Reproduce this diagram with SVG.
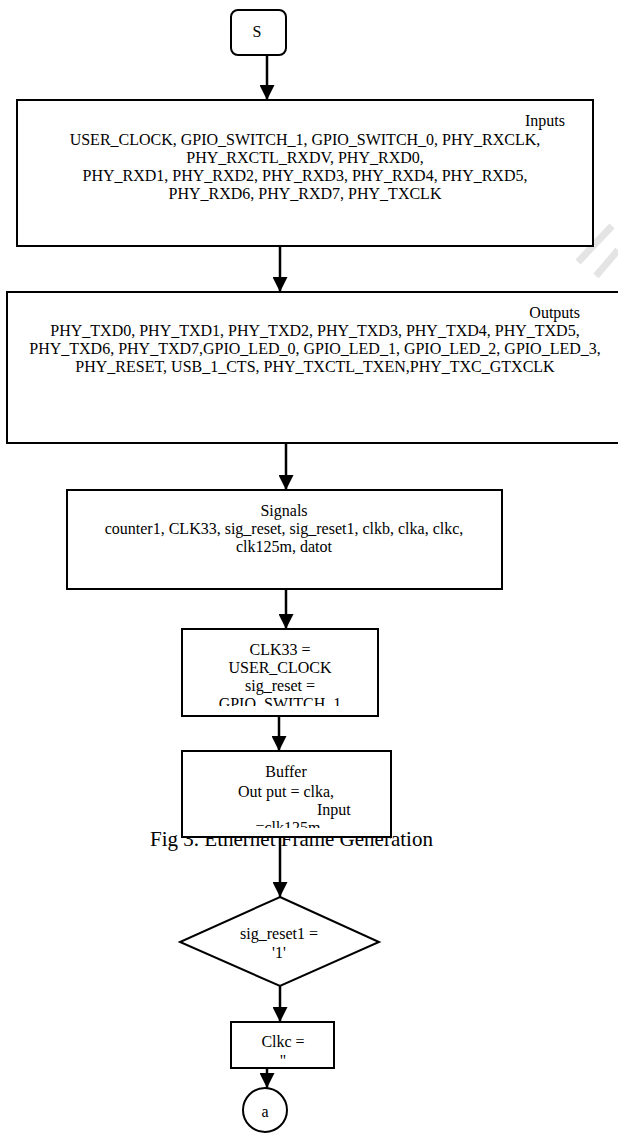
<svg xmlns="http://www.w3.org/2000/svg" width="618" height="1133" viewBox="0 0 618 1133">
<style>
.box{fill:#fff;stroke:#000;stroke-width:2}
.t{font-family:"Liberation Serif","Times New Roman",serif;font-size:16px;fill:#000}
.c{text-anchor:middle}
.e{text-anchor:end}
.cap{font-family:"Liberation Serif","Times New Roman",serif;font-size:21px;fill:#000;text-anchor:middle}
.conn line{stroke:#000;stroke-width:2.5}
.wm{fill:none;stroke:#e4e4e4;stroke-width:7}
</style>
<defs>
<marker id="ah" viewBox="0 0 15 15" refX="15" refY="7.5" markerWidth="15" markerHeight="15" markerUnits="userSpaceOnUse" orient="auto">
<path d="M0,0 L15,7.5 L0,15 Z" fill="#000"/>
</marker>
<clipPath id="clipClk"><rect x="182" y="629" width="196" height="77"/></clipPath>
<clipPath id="clipBuf"><rect x="182" y="751" width="209" height="77"/></clipPath>
<clipPath id="clipC"><rect x="231" y="1022" width="103" height="39"/></clipPath>
</defs>
<rect width="618" height="1133" fill="#fff"/>
<g id="watermark">
<path class="wm" d="M612,226 L578,262"/>
<path class="wm" d="M618,250 L596,276"/>
<path class="wm" d="M606,300 L580,330"/>
<path class="wm" d="M618,318 L588,352"/>
</g>
<text id="caption" class="cap" x="291.5" y="846">Fig 3. Ethernet Frame Generation</text>
<g id="start">
<rect class="box" x="231" y="10" width="55" height="45" rx="7"/>
<text class="t c" x="257" y="37">S</text>
</g>
<g id="inputs">
<rect class="box" x="17" y="100" width="576" height="146"/>
<text class="t e" x="565" y="126">Inputs</text>
<text class="t c" x="305" y="145">USER_CLOCK, GPIO_SWITCH_1, GPIO_SWITCH_0, PHY_RXCLK,</text>
<text class="t c" x="305" y="163">PHY_RXCTL_RXDV, PHY_RXD0,</text>
<text class="t c" x="305" y="181">PHY_RXD1, PHY_RXD2, PHY_RXD3, PHY_RXD4, PHY_RXD5,</text>
<text class="t c" x="305" y="199">PHY_RXD6, PHY_RXD7, PHY_TXCLK</text>
</g>
<g id="outputs">
<rect class="box" x="7" y="292" width="618" height="151"/>
<text class="t e" x="580" y="318">Outputs</text>
<text class="t c" x="315" y="336">PHY_TXD0, PHY_TXD1, PHY_TXD2, PHY_TXD3, PHY_TXD4, PHY_TXD5,</text>
<text class="t c" x="315" y="354">PHY_TXD6, PHY_TXD7,GPIO_LED_0, GPIO_LED_1, GPIO_LED_2, GPIO_LED_3,</text>
<text class="t c" x="315" y="372">PHY_RESET, USB_1_CTS, PHY_TXCTL_TXEN,PHY_TXC_GTXCLK</text>
</g>
<g id="signals">
<rect class="box" x="67" y="490" width="435" height="99"/>
<text class="t c" x="284" y="516">Signals</text>
<text class="t c" x="284" y="534">counter1, CLK33, sig_reset, sig_reset1, clkb, clka, clkc,</text>
<text class="t c" x="284" y="552">clk125m, datot</text>
</g>
<g id="assign">
<rect class="box" x="182" y="629" width="196" height="87"/>
<g clip-path="url(#clipClk)">
<text class="t c" x="280" y="655">CLK33 =</text>
<text class="t c" x="280" y="673">USER_CLOCK</text>
<text class="t c" x="280" y="691">sig_reset =</text>
<text class="t c" x="280" y="709">GPIO_SWITCH_1</text>
</g>
</g>
<g id="buffer">
<rect class="box" x="182" y="751" width="209" height="86"/>
<g clip-path="url(#clipBuf)">
<text class="t c" x="286" y="777">Buffer</text>
<text class="t" x="238" y="797">Out put = clka,</text>
<text class="t" x="317" y="815">Input</text>
<text class="t c" x="288" y="833">=clk125m</text>
</g>
</g>
<g id="decision">
<polygon class="box" points="280,897 379,942 280,986 180,942"/>
<text class="t c" x="279" y="939">sig_reset1 =</text>
<text class="t c" x="279" y="958">'1'</text>
</g>
<g id="clkc">
<rect class="box" x="231" y="1022" width="103" height="46"/>
<g clip-path="url(#clipC)">
<text class="t c" x="283" y="1047">Clkc =</text>
<text class="t c" x="283" y="1066">''</text>
</g>
</g>
<g id="connector-a">
<circle class="box" cx="265" cy="1110" r="22"/>
<text class="t c" x="265" y="1117">a</text>
</g>
<g class="conn" id="connectors">
<line x1="267" y1="55" x2="267" y2="100" marker-end="url(#ah)"/>
<line x1="280" y1="246" x2="280" y2="292" marker-end="url(#ah)"/>
<line x1="286" y1="443" x2="286" y2="490" marker-end="url(#ah)"/>
<line x1="286" y1="589" x2="286" y2="629" marker-end="url(#ah)"/>
<line x1="279" y1="716" x2="279" y2="751" marker-end="url(#ah)"/>
<line x1="280" y1="837" x2="280" y2="897" marker-end="url(#ah)"/>
<line x1="280" y1="986" x2="280" y2="1022" marker-end="url(#ah)"/>
<line x1="267" y1="1068" x2="267" y2="1088" marker-end="url(#ah)"/>
</g>
</svg>
